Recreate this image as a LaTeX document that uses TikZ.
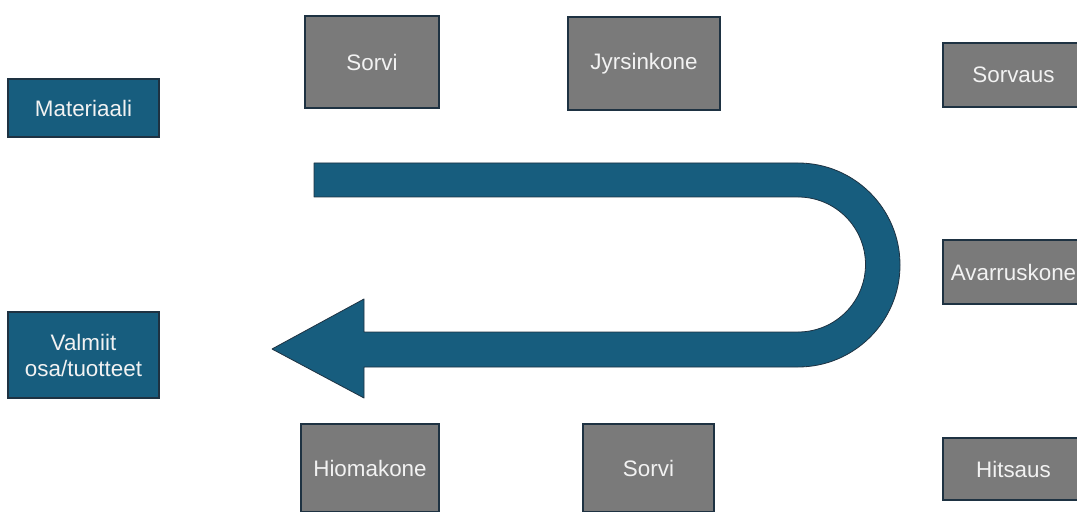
\documentclass[tikz,border=0pt]{standalone}
\usepackage{fontspec}
\setmainfont{Liberation Sans}
\definecolor{flowblue}{HTML}{175D7E}
\definecolor{machgray}{HTML}{7A7A7A}
\definecolor{edgedark}{HTML}{1E3242}
\definecolor{lighttext}{HTML}{F2F2F2}
\begin{document}
\begin{tikzpicture}[x=0.75pt,y=0.75pt,
  box/.style={draw=edgedark,line width=1.1pt,text=lighttext,inner sep=0pt,
    font=\fontsize{16.8}{20}\selectfont,align=center},
  sz/.style 2 args={minimum width=#1*0.75pt,minimum height=#2*0.75pt},
  bluebox/.style={box,fill=flowblue},
  graybox/.style={box,fill=machgray},
  uarrow/.style={fill=flowblue,draw=edgedark,line width=0.6pt,line join=round}]
\useasboundingbox (0,0) rectangle (1077,511);
\clip (0,0) rectangle (1077,511);
% left column
\node[bluebox,sz={151}{58}] (mat) at (83.5,403) {Materiaali};
\node[bluebox,sz={151}{86},font=\fontsize{16.8}{19.5}\selectfont] (valm) at (83.5,156) {Valmiit\\osa/tuotteet};
% top row
\node[graybox,sz={134}{92}] (sorvi1) at (372,449) {Sorvi};
\node[graybox,sz={152}{93}] (jyrs) at (644,447.5) {Jyrsinkone};
% right column
\node[graybox,sz={141}{64}] (sorvaus) at (1013.5,436) {Sorvaus};
\node[graybox,sz={141}{64}] (avarr) at (1013.5,239) {Avarruskone};
\node[graybox,sz={141}{62}] (hits) at (1013.5,42) {Hitsaus};
% bottom row
\node[graybox,sz={138}{88}] (hioma) at (370,43) {Hiomakone};
\node[graybox,sz={131}{88}] (sorvi2) at (648.5,43) {Sorvi};
% U-turn arrow
\path[uarrow] (314,348) -- (798,348) arc[start angle=90,end angle=-90,radius=102]
  -- (364,144) -- (364,113) -- (272,162) -- (364,212) -- (364,179) -- (798,179)
  arc[start angle=-90,end angle=90,radius=67.5] -- (314,314) -- cycle;
\end{tikzpicture}
\end{document}
